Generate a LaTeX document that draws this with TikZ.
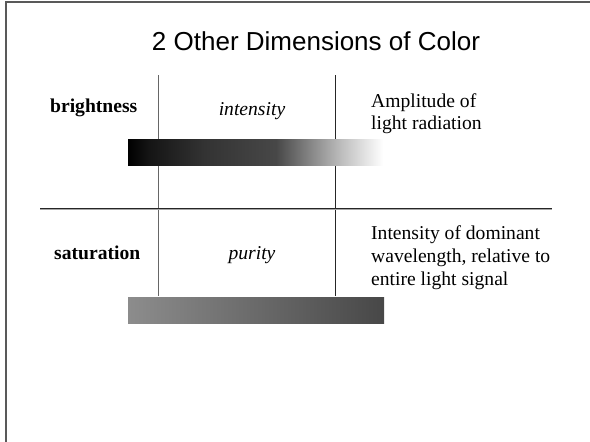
\documentclass[tikz,border=0pt]{standalone}
\usepackage{fontspec}
\setmainfont{Liberation Serif}
\newfontfamily\titlefont{Liberation Sans}
\pgfdeclarehorizontalshading{brightbar}{100bp}{color(0bp)=(black); color(25bp)=(black); color(29bp)=(black!92); color(40bp)=(black!80); color(54bp)=(black!72); color(60bp)=(black!50); color(67bp)=(black!25); color(75bp)=(white); color(100bp)=(white)}
\pgfdeclarehorizontalshading{satbar}{100bp}{color(0bp)=(black!45); color(25bp)=(black!45); color(75bp)=(black!72); color(100bp)=(black!72)}
\begin{document}
\begin{tikzpicture}[x=1pt,y=-1pt,
  frame/.style={draw=black!65,line width=1.5pt},
  rule/.style={draw=black!85,line width=1pt},
  lbl/.style={inner sep=0pt,font=\fontsize{19.6}{23}\selectfont},
  boldlbl/.style={lbl,font=\fontsize{19.6}{23}\selectfont\bfseries},
  itlbl/.style={lbl,font=\fontsize{19.6}{23}\selectfont\itshape},
  bar/.style={draw=none}]
\useasboundingbox (0,0) rectangle (590,442);
% frame
\coordinate (fbl) at (6,442);
\coordinate (ftl) at (6,2);
\coordinate (ftr) at (590,2);
\draw[frame] (fbl) -- (ftl) -- (ftr);
% title
\node[inner sep=0pt,anchor=base,font=\titlefont\fontsize{26}{31}\selectfont] (title) at (316,50) {2 Other Dimensions of Color};
% grid lines
\coordinate (v1t) at (158,75);
\coordinate (v1b) at (158,296);
\coordinate (v2t) at (335,75);
\coordinate (v2b) at (335,296);
\coordinate (hl) at (40,208);
\coordinate (hr) at (552,208);
\draw[draw=black!60,line width=1pt] (v1t) -- (v1b);
\draw[rule] (v2t) -- (v2b);
\draw[draw=black!35,line width=1pt] ([yshift=-1pt]hl) -- ([yshift=-1pt]hr);
\draw[rule] (hl) -- (hr);
% bars
\node[bar,inner sep=0pt,minimum width=255pt,minimum height=26pt,anchor=north west,shading=brightbar] (bar1) at (128,139) {};
\node[bar,inner sep=0pt,minimum width=256pt,minimum height=26pt,anchor=north west,shading=satbar] (bar2) at (128,297) {};
% row 1
\node[boldlbl,anchor=base west] (bright) at (50,112) {brightness};
\node[itlbl,anchor=base] (inten) at (252,115) {intensity};
\node[lbl,anchor=base west] (amp1) at (371,107) {Amplitude of};
\node[lbl,anchor=base west] (amp2) at (371,129) {light radiation};
% row 2
\node[boldlbl,anchor=base west] (sat) at (54,259) {saturation};
\node[itlbl,anchor=base] (pur) at (252,259) {purity};
\node[lbl,anchor=base west] (dom1) at (371,239) {Intensity of dominant};
\node[lbl,anchor=base west] (dom2) at (371,262) {wavelength, relative to};
\node[lbl,anchor=base west] (dom3) at (371,285) {entire light signal};
\end{tikzpicture}
\end{document}
